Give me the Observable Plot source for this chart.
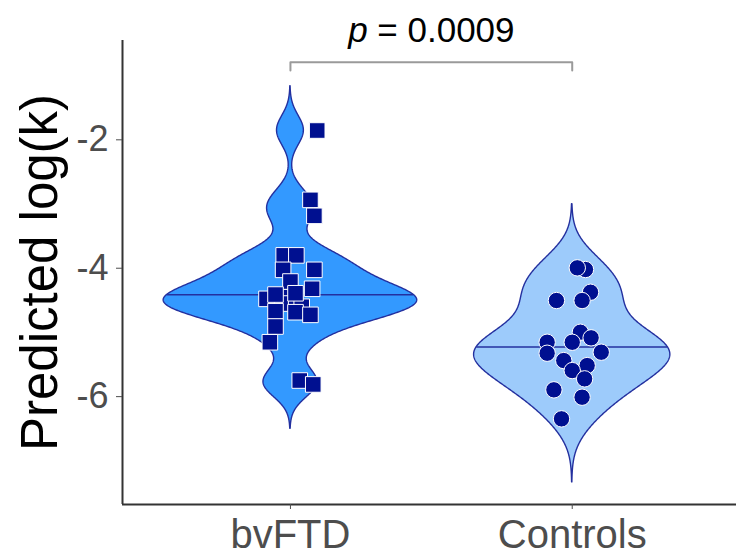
<!DOCTYPE html>
<html><head><meta charset="utf-8">
<script src="https://cdn.jsdelivr.net/npm/d3@7"></script>
<script src="https://cdn.jsdelivr.net/npm/@observablehq/plot@0.6"></script>
<style>body{margin:0;background:#fff;}</style>
</head><body><div id="chart"></div>
<script>
// ---- data (first three bvFTD squares sit hidden under others) ----
const groups = ["bvFTD", "Controls"];
const bvftdValues = [-4.45, -4.55, -4.60,
  -1.855, -2.935, -3.184, -3.80, -3.80, -4.025, -4.025, -4.207, -4.32, -4.477,
  -4.41, -4.39, -4.67, -4.685, -4.726, -4.908, -5.153, -5.749, -5.81];
const bvftdJitter = [0.0, -0.035, 0.04,
  0.095, 0.071, 0.085, -0.024, 0.021, -0.026, 0.085, 0.0, 0.077, -0.085,
  -0.053, 0.018, -0.053, 0.018, 0.071, -0.053, -0.073, 0.033, 0.081];
const controlsValues = [-4.020, -3.994, -4.374, -4.503, -4.503, -4.997, -5.084, -5.153, -5.153, -5.308,
  -5.324, -5.438, -5.516, -5.594, -5.723, -5.894, -6.009, -6.346];
const controlsJitter = [0.047, 0.018, 0.065, -0.056, 0.035, 0.029, 0.067, -0.089, 0.0, 0.103,
  -0.089, -0.030, 0.053, 0.0, 0.044, -0.065, 0.035, -0.038];
const bandwidths = [0.23, 0.33];
const yTicks = [-2, -4, -6];
const pLabel = "p = 0.0009";
const yLabel = "Predicted log(k)";

// ---- styling ----
const fills = ["#3399FF", "#9DCBFB"];
const outline = "#24309f";
const pointFill = "#001090";
const xDomain = [0.404, 2.583];
const yDomain = [-7.68, -0.453];

// ---- kernel density (gaussian, like ggplot violin, trim = FALSE) ----
function kde(values, bw, n = 512) {
  const lo = d3.min(values) - 3 * bw, hi = d3.max(values) + 3 * bw;
  const c = 1 / (values.length * bw * Math.sqrt(2 * Math.PI));
  return d3.range(n).map(i => {
    const y = lo + (hi - lo) * i / (n - 1);
    return {y, d: c * d3.sum(values, v => Math.exp(-0.5 * ((y - v) / bw) ** 2))};
  });
}
const allValues = [bvftdValues, controlsValues];
const dens = allValues.map((v, i) => kde(v, bandwidths[i]));
const maxD = d3.max(dens.flat(), e => e.d);
const violinRows = [];
const medianRows = [];
dens.forEach((arr, i) => {
  const gi = i + 1;
  arr.forEach(e => violinRows.push({group: groups[i], gi, y: e.y, w: 0.45 * e.d / maxD}));
  // median from the density's cumulative distribution
  const total = d3.sum(arr, e => e.d);
  let cum = 0, prevCum = 0;
  for (let k = 0; k < arr.length; k++) {
    prevCum = cum; cum += arr[k].d / total;
    if (cum >= 0.5) {
      const t = k === 0 ? 0 : (0.5 - prevCum) / (cum - prevCum);
      const a = arr[Math.max(k - 1, 0)], b = arr[k];
      const y = a.y + (b.y - a.y) * t;
      const w = 0.45 * (a.d + (b.d - a.d) * t) / maxD;
      medianRows.push({gi, y, w});
      break;
    }
  }
});
const bvRows = bvftdValues.map((v, i) => ({x: 1 + bvftdJitter[i], v}));
const ctRows = controlsValues.map((v, i) => ({x: 2 + controlsJitter[i], v}));
const bracket = [{x: 1, y: -0.92}, {x: 1, y: -0.79}, {x: 2, y: -0.79}, {x: 2, y: -0.92}];

const chart = Plot.plot({
  width: 736, height: 555,
  marginLeft: 122, marginRight: 0, marginTop: 40, marginBottom: 51,
  x: {domain: xDomain, axis: null},
  y: {domain: yDomain, axis: null},
  color: {domain: groups, range: fills},
  style: {fontFamily: "'Liberation Sans', Arial, Helvetica, sans-serif", background: "white"},
  marks: [
    Plot.areaX(violinRows, {y: "y", x1: d => d.gi - d.w, x2: d => d.gi + d.w, z: "group",
      fill: "group", stroke: outline, strokeWidth: 1.4}),
    Plot.ruleY(medianRows, {y: "y", x1: d => d.gi - d.w, x2: d => d.gi + d.w, stroke: outline, strokeWidth: 1.4}),
    Plot.dot(bvRows, {x: "x", y: "v", symbol: "square", r: 8.8, fill: pointFill, stroke: "white", strokeWidth: 1}),
    Plot.dot(ctRows, {x: "x", y: "v", symbol: "circle", r: 8.2, fill: pointFill, stroke: "white", strokeWidth: 1}),
    Plot.ruleX([xDomain[0]], {stroke: "#333", strokeWidth: 2}),
    Plot.ruleY([yDomain[0]], {stroke: "#333", strokeWidth: 2}),
    Plot.axisY(yTicks, {tickSize: 6, tickPadding: 8, fontSize: 36, color: "#4d4d4d", label: null,
      tickFormat: d => String(d)}),
    Plot.axisX([1, 2], {tickFormat: d => groups[d - 1], tickSize: 5, tickPadding: 10, fontSize: 40,
      color: "#4d4d4d", label: null}),
    Plot.line(bracket, {x: "x", y: "y", stroke: "#9a9a9a", strokeWidth: 2}),
    Plot.text([pLabel], {x: 1.5, y: -0.48, lineAnchor: "bottom", fontSize: 35, fill: "black"}),
    Plot.text([yLabel], {frameAnchor: "left", dx: -82, rotate: -90, textAnchor: "middle",
      fontSize: 51, fill: "black"})
  ]
});
document.getElementById("chart").appendChild(chart);
// italic "p"
d3.select(chart).selectAll("text").filter(function() { return this.textContent === pLabel; })
  .each(function() {
    const t = d3.select(this);
    t.text(null);
    t.append("tspan").attr("font-style", "italic").text("p");
    t.append("tspan").text(pLabel.slice(1));
  });
</script>
</body></html>
